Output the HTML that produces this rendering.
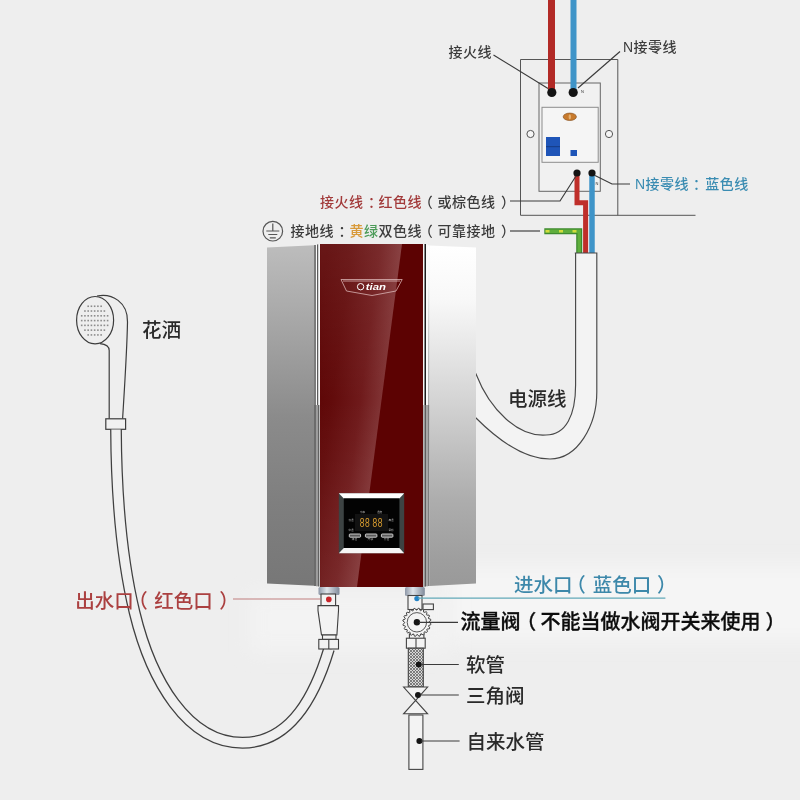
<!DOCTYPE html>
<html lang="zh-CN">
<head>
<meta charset="utf-8">
<title>电热水器安装示意图</title>
<style>
html,body{margin:0;padding:0;background:#eeeeee;}
body{width:800px;height:800px;overflow:hidden;position:relative;}
svg{position:absolute;left:0;top:0;display:block;will-change:transform;}
text{font-family:"Liberation Sans","Noto Sans CJK SC",sans-serif;}
.lbl{font-size:14px;letter-spacing:0.5px;font-weight:500;fill:#3c3c3c;}
.big{font-size:19.5px;font-weight:500;fill:#2a2a2a;}
</style>
</head>
<body>
<svg width="800" height="800" viewBox="0 0 800 800">
<defs>
  <linearGradient id="gLeft" gradientUnits="userSpaceOnUse" x1="0" y1="247" x2="0" y2="587">
    <stop offset="0" stop-color="#bcbcbc"/>
    <stop offset="0.2" stop-color="#a9a9a9"/>
    <stop offset="0.5" stop-color="#8b8b8b"/>
    <stop offset="0.75" stop-color="#7f7f7f"/>
    <stop offset="1" stop-color="#777777"/>
  </linearGradient>
  <linearGradient id="gRight" gradientUnits="userSpaceOnUse" x1="0" y1="247" x2="0" y2="587">
    <stop offset="0" stop-color="#ffffff"/>
    <stop offset="0.155" stop-color="#f8f8f8"/>
    <stop offset="0.29" stop-color="#e8e8e8"/>
    <stop offset="0.45" stop-color="#d4d4d4"/>
    <stop offset="0.6" stop-color="#c0c0c0"/>
    <stop offset="0.745" stop-color="#adadad"/>
    <stop offset="0.92" stop-color="#9e9e9e"/>
    <stop offset="1" stop-color="#999999"/>
  </linearGradient>
  <linearGradient id="gRedHi" gradientUnits="userSpaceOnUse" x1="402" y1="300" x2="322" y2="289.5">
    <stop offset="0" stop-color="#863b3c"/>
    <stop offset="0.35" stop-color="#6f1a1b"/>
    <stop offset="0.7" stop-color="#620b0b"/>
    <stop offset="1" stop-color="#5c0404"/>
  </linearGradient>
  <linearGradient id="gSeamR" gradientUnits="userSpaceOnUse" x1="0" y1="245" x2="0" y2="405">
    <stop offset="0" stop-color="#ffffff"/>
    <stop offset="0.25" stop-color="#f2f2f2"/>
    <stop offset="0.6" stop-color="#c4c4c4"/>
    <stop offset="1" stop-color="#a8a8a8"/>
  </linearGradient>
  <linearGradient id="gRedTop" gradientUnits="userSpaceOnUse" x1="0" y1="244" x2="0" y2="400">
    <stop offset="0" stop-color="#ffffff" stop-opacity="0.075"/>
    <stop offset="1" stop-color="#ffffff" stop-opacity="0"/>
  </linearGradient>
  <linearGradient id="gRedLo" gradientUnits="userSpaceOnUse" x1="0" y1="400" x2="0" y2="587">
    <stop offset="0" stop-color="#ffffff" stop-opacity="0"/>
    <stop offset="1" stop-color="#ffffff" stop-opacity="0.07"/>
  </linearGradient>
  <filter id="soft" x="-20%" y="-40%" width="140%" height="180%"><feGaussianBlur stdDeviation="9"/></filter>
  <linearGradient id="gPipe" x1="0" y1="0" x2="1" y2="0">
    <stop offset="0" stop-color="#8e98a8"/>
    <stop offset="0.4" stop-color="#dfe4ea"/>
    <stop offset="1" stop-color="#7f8999"/>
  </linearGradient>
  <pattern id="braid" width="3" height="3" patternUnits="userSpaceOnUse">
    <rect width="3" height="3" fill="#d8d8d8"/>
    <path d="M0 0L3 3M3 0L0 3" stroke="#666" stroke-width="0.8"/>
  </pattern>
  <clipPath id="redClip"><rect x="320" y="244" width="103" height="343"/></clipPath>
</defs>

<rect width="800" height="800" fill="#eeeeee"/>
<rect x="450" y="566" width="380" height="74" fill="#f5f5f5" filter="url(#soft)"/>
<rect x="250" y="592" width="200" height="60" fill="#f3f3f3" filter="url(#soft)"/>

<!-- ===== breaker box ===== -->
<g fill="none" stroke="#555" stroke-width="1">
  <path d="M520.5 215.3V59.5H617.8V215.3"/>
  <path d="M520.5 215.3H695.5"/>
  <rect x="539" y="83" width="61.3" height="108.3" fill="#f1f1f1" stroke="#666"/>
  <rect x="542" y="107.3" width="56.2" height="55" fill="#f5f5f5" stroke="#8c8c8c"/>
  <circle cx="530.5" cy="134" r="3.6" fill="#f6f6f6"/>
  <circle cx="609" cy="134" r="3.6" fill="#f6f6f6"/>
</g>
<ellipse cx="569.8" cy="116.8" rx="6.6" ry="3.7" fill="#c87a2c" stroke="#8a5424" stroke-width="0.7"/>
<ellipse cx="569.8" cy="116.8" rx="1.2" ry="2.6" fill="#e6b273"/>
<rect x="546" y="137" width="14" height="19" fill="#1f55b8"/>
<rect x="546" y="146" width="14" height="1.2" fill="#173f8c"/>
<rect x="570.5" y="150" width="6.5" height="6" fill="#1f55b8"/>

<!-- top wires -->
<rect x="548" y="0" width="7" height="92" fill="#b22a26"/>
<rect x="570.5" y="0" width="6" height="92" fill="#3f94c8"/>
<circle cx="551.8" cy="92.5" r="4.6" fill="#141414"/>
<circle cx="573.2" cy="92.5" r="4.6" fill="#141414"/>
<text x="581" y="92.5" font-size="4" fill="#333">N</text>

<!-- lower wires -->
<path d="M577 173V202.7H585.6V253" fill="none" stroke="#bf2f2a" stroke-width="5" stroke-linejoin="miter"/>
<path d="M592 173V253" fill="none" stroke="#3f94c8" stroke-width="5.5"/>
<path d="M544.3 231.3H579.2V253" fill="none" stroke="#3f8a2e" stroke-width="6" stroke-linejoin="miter"/>
<path d="M545.3 231.3H579.2V253" fill="none" stroke="#5fae3c" stroke-width="3.4"/>
<path d="M545.5 231.3H577" fill="none" stroke="#d2dc3c" stroke-width="2.6" stroke-dasharray="4 9.5"/>
<circle cx="577" cy="173" r="3.6" fill="#141414"/>
<circle cx="592" cy="173" r="3.6" fill="#141414"/>
<text x="595.6" y="184.5" font-size="4" fill="#333">N</text>

<!-- power cable -->
<path d="M574.8 253H596.8V392C596.8 425 578 459 550 459C524 459 498 440 476 418L468 411V358L476 374C490 410 518 437 546 435C566 435 575.6 415 575.6 385V253Z" fill="#f3f3f3" stroke="#484848" stroke-width="1.15"/>

<!-- leader lines top -->
<g fill="none" stroke="#3a3a3a" stroke-width="1.15">
  <path d="M493.5 55L548 88.5"/>
  <path d="M620 51.5L578 88"/>
  <path d="M510 201H560L576 176"/>
  <path d="M510 231H540"/>
  <path d="M630 184H612L595 175.5"/>
</g>

<!-- top labels -->
<text class="lbl" x="448.5" y="57.1">接火线</text>
<text class="lbl" x="623" y="52.4">N接零线</text>
<g style="fill:#3a8cb2">
<text class="lbl" x="635" y="189.3" style="fill:#3a8cb2">N接零线</text>
<text class="lbl" x="693" y="189.3" style="fill:#3a8cb2">：</text>
<text class="lbl" x="705.3" y="189.3" style="fill:#3a8cb2">蓝色线</text>
</g>
<text class="lbl" x="320" y="207.3" style="fill:#a23a3a">接火线</text>
<text class="lbl" x="368" y="207.3" style="fill:#a23a3a">：</text>
<text class="lbl" x="378.5" y="207.3" style="fill:#a23a3a">红色线</text>
<text class="lbl" x="418.7" y="207.3">（</text>
<text class="lbl" x="437.5" y="207.3">或棕色线</text>
<text class="lbl" x="501" y="207.3">）</text>
<text class="lbl" x="290.5" y="236.3">接地线</text>
<text class="lbl" x="338.5" y="236.3">：</text>
<text class="lbl" x="349.5" y="236.3" style="fill:#d89a3a">黄</text>
<text class="lbl" x="364" y="236.3" style="fill:#4b9b58">绿</text>
<text class="lbl" x="378.5" y="236.3">双色线</text>
<text class="lbl" x="418.7" y="236.3">（</text>
<text class="lbl" x="437.5" y="236.3">可靠接地</text>
<text class="lbl" x="501" y="236.3">）</text>
<!-- ground symbol -->
<g fill="none" stroke="#555" stroke-width="1.2">
  <circle cx="272.8" cy="231.2" r="9.8"/>
  <path d="M272.8 223.5V230.8M266.3 231H279.3M268.3 234.5H277.3M269.8 237.8H275.8"/>
</g>

<!-- ===== heater ===== -->
<polygon points="267,247.4 314,245.2 314,585.7 267,583.4" fill="url(#gLeft)"/>
<!-- left seam -->
<rect x="314" y="245" width="2" height="160" fill="#7c7c7c"/>
<rect x="316" y="244.6" width="1.3" height="160.4" fill="#fafafa"/>
<rect x="317.3" y="244.4" width="1.1" height="160.6" fill="#1c1c1c"/>
<rect x="318.4" y="244.2" width="1.8" height="160.8" fill="#f6f6f6"/>
<rect x="314" y="405" width="2" height="181" fill="#6c6c6c"/>
<rect x="316" y="405" width="2" height="181.3" fill="#9c9c9c"/>
<rect x="318" y="405" width="1" height="181.5" fill="#626262"/>
<rect x="319" y="405" width="1.2" height="181.7" fill="#bdbdbd"/>
<!-- red glass -->
<rect x="320.2" y="244" width="102.8" height="343" fill="#5c0202"/>
<polygon points="320,244 402,244 357,587 320,587" fill="url(#gRedHi)" clip-path="url(#redClip)"/>
<polygon points="320.2,400 381.5,400 357,587 320.2,587" fill="url(#gRedLo)"/>
<polygon points="320.2,244 402,244 381.5,400 320.2,400" fill="url(#gRedTop)"/>
<!-- right seam -->
<rect x="423" y="244" width="1.5" height="161" fill="#f4f4f4"/>
<rect x="424.5" y="244" width="1.5" height="161" fill="#1c1c1c"/>
<rect x="426" y="244.4" width="2" height="160.6" fill="#fafafa"/>
<rect x="428" y="245.4" width="1.5" height="159.6" fill="url(#gSeamR)"/>
<rect x="423" y="405" width="1.5" height="182" fill="#b5b5b5"/>
<rect x="424.5" y="405" width="1.5" height="181.6" fill="#5e5e5e"/>
<rect x="426" y="405" width="2" height="181.3" fill="#a6a6a6"/>
<rect x="428" y="405" width="1.5" height="181" fill="#7e7e7e"/>
<polygon points="429.5,245.6 476,247.5 476,583.5 429.5,586" fill="url(#gRight)"/>

<!-- logo -->
<g fill="none" stroke="#e8c8c8" stroke-width="0.7">
  <path d="M341 279.5H402.2L396 291L372 295.5L346.5 291Z"/>
  <path d="M343 281H400"/>
  <circle cx="360.6" cy="286.7" r="3.2" stroke="#fff" stroke-width="1"/>
</g>
<text x="365.8" y="290.4" font-size="9" font-weight="bold" font-style="italic" fill="#ffffff" textLength="20.2" lengthAdjust="spacingAndGlyphs">tian</text>

<!-- display panel -->
<rect x="338.8" y="493.3" width="65.4" height="59.9" fill="#3d4343"/>
<polygon points="338.8,493.3 404.2,493.3 399.4,498.4 343.8,498.4" fill="#ffffff"/>
<polygon points="338.8,553.2 404.2,553.2 399.4,548 343.8,548" fill="#f6f6f6"/>
<rect x="343.8" y="498.4" width="55.6" height="49.6" fill="#030303"/>
<rect x="355" y="514" width="33" height="17" fill="#121212"/>
<text x="359.6" y="527" font-size="12.6" fill="#d89c2e" textLength="10.4" lengthAdjust="spacingAndGlyphs" style="font-family:'Liberation Mono',monospace">88</text>
<text x="372.2" y="527" font-size="12.6" fill="#d89c2e" textLength="10.4" lengthAdjust="spacingAndGlyphs" style="font-family:'Liberation Mono',monospace">88</text>
<g font-size="2.6" fill="#b5b5b5">
  <text x="360" y="513">功率</text>
  <text x="377" y="513">温度</text>
  <text x="348.5" y="521">低温</text>
  <text x="348.5" y="531">中温</text>
  <text x="388.5" y="521">高温</text>
  <text x="388.5" y="531">童锁</text>
  <text x="351.8" y="540.3">降温</text>
  <text x="367.5" y="540.3">开/关</text>
  <text x="384" y="540.3">升温</text>
</g>
<g fill="#5a5a5a" stroke="#dcdcdc" stroke-width="0.9">
  <rect x="349.3" y="534" width="11.3" height="3.2" rx="0.8"/>
  <rect x="365.4" y="534" width="11.5" height="3.2" rx="0.8"/>
  <rect x="381.4" y="534" width="11.5" height="3.2" rx="0.8"/>
</g>

<!-- outlet pipes under heater -->
<rect x="318.5" y="587" width="21" height="8" rx="1.5" fill="url(#gPipe)"/>
<rect x="405" y="587" width="19.8" height="9" rx="1.5" fill="url(#gPipe)"/>

<!-- ===== shower ===== -->
<g fill="none" stroke="#3c3c3c" stroke-width="1.2">
  <ellipse cx="95.1" cy="320.2" rx="18.5" ry="23.7"/>
  <path d="M97 296C112 293 128 302 127.5 322C127 350 125 380 122.6 418.8"/>
  <path d="M100 343.6C106 344.2 109.2 346 109.2 350.5V418.8"/>
  <rect x="105.8" y="418.8" width="19.8" height="10.5" fill="#f1f1f1"/>
</g>
<g fill="#8c8c8c"><rect x="87.38" y="305.45" width="1.6" height="1.6"/><rect x="90.62" y="305.45" width="1.6" height="1.6"/><rect x="93.86" y="305.45" width="1.6" height="1.6"/><rect x="97.10" y="305.45" width="1.6" height="1.6"/><rect x="100.34" y="305.45" width="1.6" height="1.6"/><rect x="84.14" y="310.23" width="1.6" height="1.6"/><rect x="87.38" y="310.23" width="1.6" height="1.6"/><rect x="90.62" y="310.23" width="1.6" height="1.6"/><rect x="93.86" y="310.23" width="1.6" height="1.6"/><rect x="97.10" y="310.23" width="1.6" height="1.6"/><rect x="100.34" y="310.23" width="1.6" height="1.6"/><rect x="103.58" y="310.23" width="1.6" height="1.6"/><rect x="80.90" y="315.01" width="1.6" height="1.6"/><rect x="84.14" y="315.01" width="1.6" height="1.6"/><rect x="87.38" y="315.01" width="1.6" height="1.6"/><rect x="90.62" y="315.01" width="1.6" height="1.6"/><rect x="93.86" y="315.01" width="1.6" height="1.6"/><rect x="97.10" y="315.01" width="1.6" height="1.6"/><rect x="100.34" y="315.01" width="1.6" height="1.6"/><rect x="103.58" y="315.01" width="1.6" height="1.6"/><rect x="106.82" y="315.01" width="1.6" height="1.6"/><rect x="80.90" y="319.79" width="1.6" height="1.6"/><rect x="84.14" y="319.79" width="1.6" height="1.6"/><rect x="87.38" y="319.79" width="1.6" height="1.6"/><rect x="90.62" y="319.79" width="1.6" height="1.6"/><rect x="93.86" y="319.79" width="1.6" height="1.6"/><rect x="97.10" y="319.79" width="1.6" height="1.6"/><rect x="100.34" y="319.79" width="1.6" height="1.6"/><rect x="103.58" y="319.79" width="1.6" height="1.6"/><rect x="106.82" y="319.79" width="1.6" height="1.6"/><rect x="80.90" y="324.57" width="1.6" height="1.6"/><rect x="84.14" y="324.57" width="1.6" height="1.6"/><rect x="87.38" y="324.57" width="1.6" height="1.6"/><rect x="90.62" y="324.57" width="1.6" height="1.6"/><rect x="93.86" y="324.57" width="1.6" height="1.6"/><rect x="97.10" y="324.57" width="1.6" height="1.6"/><rect x="100.34" y="324.57" width="1.6" height="1.6"/><rect x="103.58" y="324.57" width="1.6" height="1.6"/><rect x="106.82" y="324.57" width="1.6" height="1.6"/><rect x="84.14" y="329.35" width="1.6" height="1.6"/><rect x="87.38" y="329.35" width="1.6" height="1.6"/><rect x="90.62" y="329.35" width="1.6" height="1.6"/><rect x="93.86" y="329.35" width="1.6" height="1.6"/><rect x="97.10" y="329.35" width="1.6" height="1.6"/><rect x="100.34" y="329.35" width="1.6" height="1.6"/><rect x="103.58" y="329.35" width="1.6" height="1.6"/><rect x="87.38" y="334.13" width="1.6" height="1.6"/><rect x="90.62" y="334.13" width="1.6" height="1.6"/><rect x="93.86" y="334.13" width="1.6" height="1.6"/><rect x="97.10" y="334.13" width="1.6" height="1.6"/><rect x="100.34" y="334.13" width="1.6" height="1.6"/></g>
<!-- hose -->
<path id="hose" d="M116 429.5C116.3 489.5 120.5 554.3 134.6 612.5C151 680.4 187.5 742.75 242.5 742.75C292.5 742.75 316 692.2 329 649" fill="none" stroke="#404040" stroke-width="11.8"/>
<path d="M116 429.5C116.3 489.5 120.5 554.3 134.6 612.5C151 680.4 187.5 742.75 242.5 742.75C292.5 742.75 316 692.2 329 649" fill="none" stroke="#f0f0f0" stroke-width="9.3"/>
<!-- hose connector -->
<g fill="#f3f3f3" stroke="#3f3f3f" stroke-width="1.1">
  <rect x="321" y="594" width="14.6" height="12"/>
  <path d="M318 605.6H338.5V610.6L336.9 635H321.5L318 610.6Z"/>
  <rect x="322.5" y="635" width="13.5" height="4.4"/>
  <rect x="318.8" y="639.4" width="19.7" height="9.6"/>
  <path d="M328.8 639.4V649"/>
</g>
<circle cx="328.8" cy="599.4" r="2.8" fill="#c8242a"/>
<path d="M233 599H321" stroke="#c07f7f" stroke-width="1.2" fill="none"/>
<g style="font-size:19.5px;font-weight:500;fill:#ab4040">
<text x="75.3" y="607.9">出水口</text>
<text x="128.2" y="607.9">（</text>
<text x="154.3" y="607.9">红色口</text>
<text x="219.3" y="607.9">）</text>
</g>

<text class="big" x="142" y="337.2">花洒</text>
<text class="big" x="507.9" y="405.9">电源线</text>

<!-- ===== inlet plumbing ===== -->
<g fill="#f3f3f3" stroke="#444" stroke-width="1.1">
  <rect x="408" y="595.5" width="14" height="14"/>
  <rect x="423" y="604" width="10.4" height="5.6"/>
  <rect x="409.4" y="634" width="14.5" height="5"/>
  <path d="M429.10 622.30L430.94 623.63L430.79 624.72L428.67 625.52L428.50 626.07L429.84 627.90L429.36 628.90L427.10 629.00L426.77 629.47L427.48 631.62L426.71 632.43L424.53 631.82L424.07 632.17L424.08 634.44L423.10 634.96L421.21 633.71L420.67 633.90L419.98 636.06L418.89 636.26L417.47 634.49L416.90 634.50L415.57 636.34L414.48 636.19L413.68 634.07L413.13 633.90L411.30 635.24L410.30 634.76L410.20 632.50L409.73 632.17L407.58 632.88L406.77 632.11L407.38 629.93L407.03 629.47L404.76 629.48L404.24 628.50L405.49 626.61L405.30 626.07L403.14 625.38L402.94 624.29L404.71 622.87L404.70 622.30L402.86 620.97L403.01 619.88L405.13 619.08L405.30 618.53L403.96 616.70L404.44 615.70L406.70 615.60L407.03 615.13L406.32 612.98L407.09 612.17L409.27 612.78L409.73 612.43L409.72 610.16L410.70 609.64L412.59 610.89L413.13 610.70L413.82 608.54L414.91 608.34L416.33 610.11L416.90 610.10L418.23 608.26L419.32 608.41L420.12 610.53L420.67 610.70L422.50 609.36L423.50 609.84L423.60 612.10L424.07 612.43L426.22 611.72L427.03 612.49L426.42 614.67L426.77 615.13L429.04 615.12L429.56 616.10L428.31 617.99L428.50 618.53L430.66 619.22L430.86 620.31L429.09 621.73Z" stroke-width="1"/>
  <circle cx="416.9" cy="622.3" r="9.7" stroke-width="0.9"/>
  <rect x="406.4" y="638.2" width="18.8" height="10"/>
  <path d="M416 638.2V648.2"/>
  <rect x="408.3" y="648.2" width="15" height="38.8" fill="url(#braid)"/>
  <path d="M403.6 687H427.6L403.6 713.8H427.6Z"/>
  <rect x="408.9" y="715" width="14" height="54.4"/>
</g>
<circle cx="416.9" cy="598.6" r="2.6" fill="#2383c6"/>
<path d="M418 598.1H665.4" stroke="#62a9b8" stroke-width="1.2" fill="none"/>
<g fill="#151515">
  <circle cx="416.9" cy="622.3" r="3.2"/>
  <circle cx="418.8" cy="664.5" r="3"/>
  <circle cx="418" cy="695" r="3"/>
  <circle cx="419.4" cy="741" r="3"/>
</g>
<g stroke="#3a3a3a" stroke-width="1.2" fill="none">
  <path d="M419 622.3H458"/>
  <path d="M421 664.5H458.8"/>
  <path d="M420 695H458.8"/>
  <path d="M421 741H459.6"/>
</g>

<g style="font-size:19.5px;font-weight:500;fill:#3d88aa">
<text x="514" y="591.9">进水口</text>
<text x="566.2" y="591.9">（</text>
<text x="592.8" y="591.9">蓝色口</text>
<text x="657" y="591.9">）</text>
</g>

<text x="460.5" y="629.3" font-size="20" font-weight="500" fill="#0c0c0c" stroke="#0c0c0c" stroke-width="0.3" textLength="60">流量阀</text>
<text x="516.3" y="629.3" font-size="20" font-weight="500" fill="#0c0c0c" stroke="#0c0c0c" stroke-width="0.3">（</text>
<text x="540.5" y="629.3" font-size="20" font-weight="500" fill="#0c0c0c" stroke="#0c0c0c" stroke-width="0.3" textLength="220">不能当做水阀开关来使用</text>
<text x="765.6" y="629.3" font-size="20" font-weight="500" fill="#0c0c0c" stroke="#0c0c0c" stroke-width="0.3">）</text>

<text class="big" x="466" y="671.9">软管</text>
<text class="big" x="466" y="703.1">三角阀</text>
<text class="big" x="466.6" y="749.2">自来水管</text>
</svg>
</body>
</html>
